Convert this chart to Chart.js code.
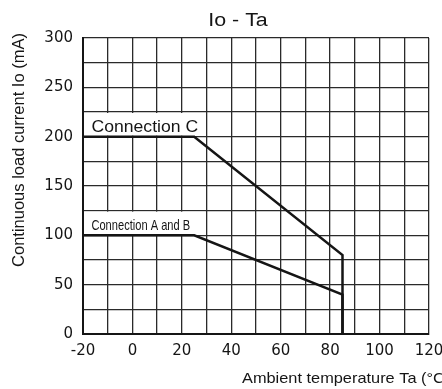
<!DOCTYPE html>
<html>
<head>
<meta charset="utf-8">
<title>Io - Ta</title>
<script src="https://cdn.jsdelivr.net/npm/chart.js@4"></script>
<style>
  html, body { margin: 0; padding: 0; background: #fff; }
  #wrap { width: 442px; height: 389px; }
</style>
</head>
<body>
<div id="wrap"><canvas id="myChart"></canvas></div>
<script>
// data
const tempC = [-20, 25, 85, 85];
const ioC = [200, 200, 80, 0];
const tempAB = [-20, 25, 85, 85];
const ioAB = [100, 100, 40, 0];
const xTickLabels = [-20, 0, 20, 40, 60, 80, 100, 120];
const yTickLabels = [0, 50, 100, 150, 200, 250, 300];
const seriesNames = ['Connection C', 'Connection A and B'];
// label boxes: [xFrom, xTo, yFrom, yTo]
const labelBoxes = [[-20, 30, 200, 225], [-20, 30, 100, 125]];

const toPoints = (xs, ys) => xs.map((x, i) => ({ x: x, y: ys[i] }));
const ink = '#151515';
const sans = '"Liberation Sans", Arial, sans-serif';

// text with horizontal stretch
function stretchText(ctx, text, x, y, font, sx, align) {
  ctx.save();
  ctx.font = font;
  ctx.textAlign = align;
  ctx.translate(x, y);
  ctx.scale(sx, 1);
  ctx.fillText(text, 0, 0);
  ctx.restore();
}

// white boxes with the series names, over the grid
const labelsPlugin = {
  id: 'labels',
  beforeDatasetsDraw(chart) {
    const { ctx, scales: { x, y } } = chart;
    labelBoxes.forEach((b, i) => {
      const x0 = x.getPixelForValue(b[0]) + 1, x1 = x.getPixelForValue(b[1]) - 1;
      const y0 = y.getPixelForValue(b[3]) + 1, y1 = y.getPixelForValue(b[2]) - 1;
      ctx.save();
      ctx.fillStyle = '#fff';
      ctx.fillRect(x0, y0, x1 - x0, y1 - y0);
      ctx.fillStyle = ink;
      ctx.textBaseline = 'alphabetic';
      const cx = (x0 + x1) / 2 - (i === 1 ? 4 : 0);
      const base = y1 - 4;
      if (i === 0) {
        stretchText(ctx, seriesNames[i], cx, base, '16px ' + sans, 1.1, 'center');
      } else {
        stretchText(ctx, seriesNames[i], cx, base, '15px ' + sans, 0.74, 'center');
      }
      ctx.restore();
    });
  }
};

// title and axis titles drawn as text
const textPlugin = {
  id: 'texts',
  afterDraw(chart) {
    const { ctx } = chart;
    ctx.save();
    ctx.fillStyle = ink;
    ctx.textBaseline = 'alphabetic';
    stretchText(ctx, 'Io - Ta', 238, 26, '18px ' + sans, 1.19, 'center');
    stretchText(ctx, 'Ambient temperature Ta (\u00B0C)', 242, 383, '15px ' + sans, 1.09, 'left');
    ctx.translate(24, 150);
    ctx.rotate(-Math.PI / 2);
    ctx.font = '16.5px ' + sans;
    ctx.textAlign = 'center';
    ctx.fillText('Continuous load current Io (mA)', 0, 0);
    ctx.restore();
  }
};

const tickFont = { family: '"DejaVu Sans", sans-serif', size: 15 };

const config = {
  type: 'scatter',
  data: {
    datasets: [
      {
        label: seriesNames[0],
        data: toPoints(tempC, ioC),
        showLine: true,
        borderColor: ink,
        borderWidth: 2.5,
        pointRadius: 0,
        tension: 0
      },
      {
        label: seriesNames[1],
        data: toPoints(tempAB, ioAB),
        showLine: true,
        borderColor: ink,
        borderWidth: 2.5,
        pointRadius: 0,
        tension: 0
      }
    ]
  },
  options: {
    responsive: true,
    maintainAspectRatio: false,
    animation: false,
    layout: { padding: { left: 0, right: 13, top: 38, bottom: 0 } },
    plugins: {
      legend: { display: false },
      title: { display: false },
      tooltip: { enabled: false }
    },
    scales: {
      x: {
        type: 'linear',
        min: -20,
        max: 120,
        border: { color: ink, width: 2 },
        grid: { color: '#2a2a2a', lineWidth: 1.3, drawTicks: false },
        ticks: {
          stepSize: 10,
          autoSkip: false,
          padding: 8,
          color: ink,
          maxRotation: 0,
          font: tickFont,
          callback: v => xTickLabels.includes(v) ? String(v) : ''
        },
        afterFit: s => { s.height = 55; s.paddingLeft = 0; s.paddingRight = 0; }
      },
      y: {
        type: 'linear',
        min: 0,
        max: 300,
        border: { color: ink, width: 2 },
        grid: { color: '#2a2a2a', lineWidth: 1.3, drawTicks: false },
        ticks: {
          stepSize: 25,
          autoSkip: false,
          padding: 10,
          color: ink,
          font: tickFont,
          callback: v => yTickLabels.includes(v) ? String(v) : ''
        },
        afterFit: s => { s.width = 83; s.paddingTop = 0; s.paddingBottom = 0; }
      }
    }
  },
  plugins: [labelsPlugin, textPlugin]
};

const myChart = new Chart(document.getElementById('myChart'), config);
</script>
</body>
</html>
